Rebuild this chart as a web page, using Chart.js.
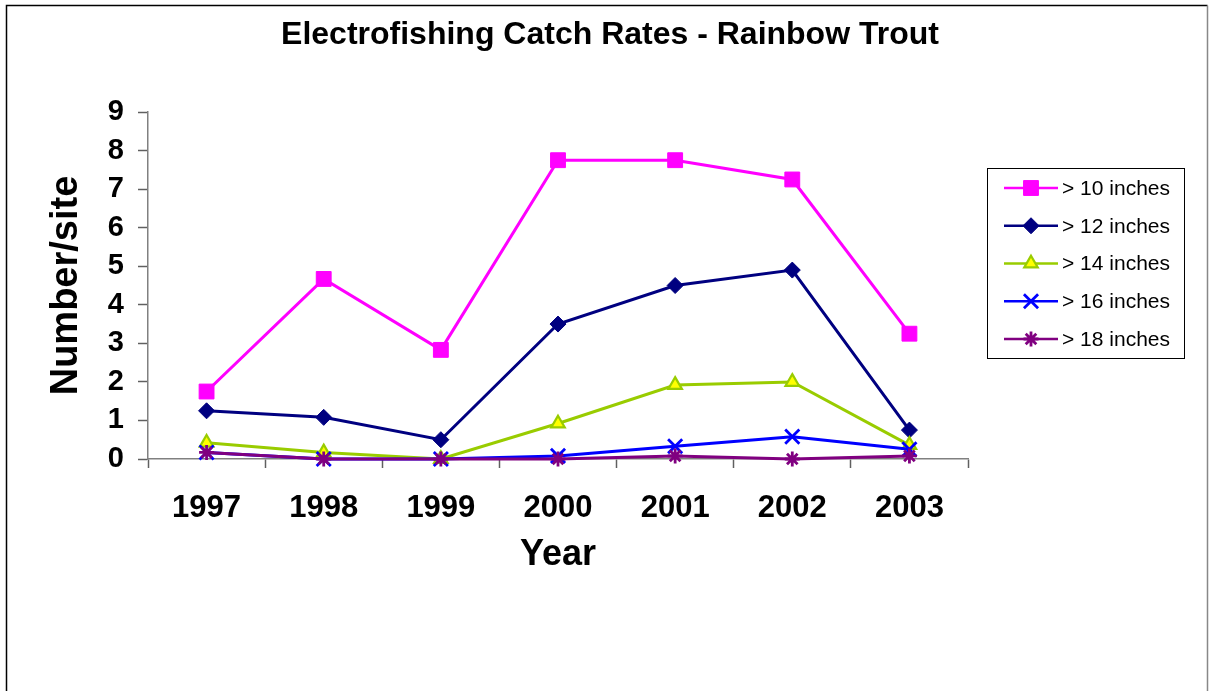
<!DOCTYPE html>
<html>
<head>
<meta charset="utf-8">
<script src="https://cdn.jsdelivr.net/npm/chart.js@4/dist/chart.umd.min.js"></script>
<style>
  html, body { margin: 0; padding: 0; background: #fff; }
  #wrap { width: 1209px; height: 691px; }
</style>
</head>
<body>
<div id="wrap"><canvas id="myChart" width="1209" height="691"></canvas></div>
<script>
  // データ
  var years = ['1997', '1998', '1999', '2000', '2001', '2002', '2003'];
  var over10 = [1.75, 4.67, 2.83, 7.75, 7.75, 7.25, 3.25];
  var over12 = [1.25, 1.08, 0.5, 3.5, 4.5, 4.9, 0.75];
  var over14 = [0.42, 0.17, 0, 0.92, 1.92, 2.0, 0.36];
  var over16 = [0.17, 0, 0, 0.08, 0.33, 0.58, 0.25];
  var over18 = [0.17, 0, 0, 0, 0.08, 0, 0.08];
  var seriesNames = ['> 10 inches', '> 12 inches', '> 14 inches', '> 16 inches', '> 18 inches'];
  var yTicks = [0, 1, 2, 3, 4, 5, 6, 7, 8, 9];

  var titleText = 'Electrofishing Catch Rates - Rainbow Trout';
  var FONT = '"Liberation Sans", Arial, sans-serif';

  function makeSet(label, data, color, style, radius, fill, bw, order) {
    return {
      label: label,
      data: data,
      borderColor: color,
      borderWidth: 3,
      pointStyle: style,
      pointRadius: radius,
      pointHoverRadius: radius,
      pointBackgroundColor: fill,
      pointBorderColor: color,
      pointBorderWidth: bw,
      tension: 0,
      clip: false,
      order: order
    };
  }

  var datasets = [
    makeSet(seriesNames[0], over10, '#FF00FF', 'rect', 10.5, '#FF00FF', 1, 5),
    makeSet(seriesNames[1], over12, '#000080', 'rectRot', 8, '#000080', 1, 4),
    makeSet(seriesNames[2], over14, '#99CC00', 'triangle', 7.8, '#FFFF00', 2.2, 3),
    makeSet(seriesNames[3], over16, '#0000FF', 'crossRot', 10, '#0000FF', 2.8, 2),
    makeSet(seriesNames[4], over18, '#800080', 'star', 7.5, '#800080', 2.8, 1)
  ];
  // 凡例の順番
  var legendOrder = [0, 1, 2, 3, 4];

  // タイトル・枠・凡例
  var decor = {
    id: 'decor',
    beforeDraw: function(chart) {
      var ctx = chart.ctx;
      ctx.save();
      ctx.fillStyle = '#fff';
      ctx.fillRect(0, 0, chart.width, chart.height);
      ctx.strokeStyle = '#000';
      ctx.lineWidth = 1.5;
      ctx.beginPath();
      ctx.moveTo(6.5, 700);
      ctx.lineTo(6.5, 5.5);
      ctx.lineTo(1207.5, 5.5);
      ctx.stroke();
      ctx.strokeStyle = '#888';
      ctx.beginPath();
      ctx.moveTo(1207.5, 5.5);
      ctx.lineTo(1207.5, 700);
      ctx.stroke();
      ctx.restore();
    },
    afterDraw: function(chart) {
      var ctx = chart.ctx;
      ctx.save();
      ctx.fillStyle = '#000';
      ctx.font = 'bold 32px ' + FONT;
      ctx.textAlign = 'center';
      ctx.textBaseline = 'middle';
      ctx.fillText(titleText, 610, 35);

      // 凡例
      ctx.strokeStyle = '#000';
      ctx.lineWidth = 1;
      ctx.strokeRect(987.5, 168.5, 197, 190);
      var rowY = 188;
      var step = 37.75;
      legendOrder.forEach(function(i, k) {
        var ds = datasets[i];
        var y = rowY + k * step;
        ctx.strokeStyle = ds.borderColor;
        ctx.lineWidth = 2.5;
        ctx.beginPath();
        ctx.moveTo(1004, y);
        ctx.lineTo(1058, y);
        ctx.stroke();
        ctx.fillStyle = ds.pointBackgroundColor;
        ctx.strokeStyle = ds.pointBorderColor;
        ctx.lineWidth = ds.pointBorderWidth;
        if (Chart.helpers && Chart.helpers.drawPoint) {
          Chart.helpers.drawPoint(ctx, {
            pointStyle: ds.pointStyle,
            radius: ds.pointRadius,
            rotation: 0,
            borderWidth: ds.pointBorderWidth
          }, 1031, y);
        }
        ctx.fillStyle = '#000';
        ctx.font = '21px ' + FONT;
        ctx.textAlign = 'left';
        ctx.textBaseline = 'middle';
        ctx.fillText(ds.label, 1062, y + 1);
      });
      ctx.restore();
    }
  };

  var ctx = document.getElementById('myChart').getContext('2d');
  var myChart = new Chart(ctx, {
    type: 'line',
    data: {
      labels: years,
      datasets: datasets
    },
    options: {
      responsive: false,
      animation: false,
      devicePixelRatio: 1,
      layout: {
        padding: { left: 0, top: 112, right: 241, bottom: 91 }
      },
      plugins: {
        legend: { display: false },
        title: { display: false },
        tooltip: { enabled: false }
      },
      scales: {
        x: {
          type: 'category',
          offset: true,
          afterFit: function(s) { s.height = 141; },
          grid: {
            display: true,
            offset: true,
            drawOnChartArea: false,
            drawTicks: true,
            tickLength: 9,
            tickWidth: 1.5,
            tickColor: '#606060'
          },
          border: { display: true, color: '#808080', width: 1.5 },
          ticks: {
            color: '#000',
            padding: 22,
            maxRotation: 0,
            autoSkip: false,
            font: { family: FONT, size: 31, weight: 'bold' }
          },
          title: {
            display: true,
            text: 'Year',
            color: '#000',
            padding: { top: 0, bottom: 23 },
            font: { family: FONT, size: 36, weight: 'bold' }
          }
        },
        y: {
          min: 0,
          max: 9,
          afterFit: function(s) { s.width = 148; },
          afterBuildTicks: function(s) {
            s.ticks = yTicks.map(function(v) { return { value: v }; });
          },
          grid: {
            display: true,
            drawOnChartArea: false,
            drawTicks: true,
            tickLength: 10,
            tickWidth: 1.5,
            tickColor: '#606060'
          },
          border: { display: true, color: '#808080', width: 1.5 },
          ticks: {
            color: '#000',
            padding: 14,
            font: { family: FONT, size: 29, weight: 'bold' }
          },
          title: {
            display: true,
            text: 'Number/site',
            color: '#000',
            padding: { top: 44, bottom: 0 },
            font: { family: FONT, size: 38, weight: 'bold' }
          }
        }
      }
    },
    plugins: [decor]
  });
</script>
</body>
</html>
